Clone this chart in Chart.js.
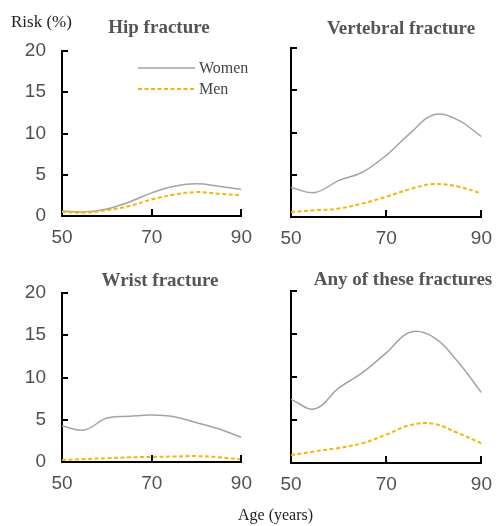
<!DOCTYPE html>
<html>
<head>
<meta charset="utf-8">
<script src="https://cdn.jsdelivr.net/npm/chart.js@4.4.0/dist/chart.umd.min.js"></script>
<style>
  body { margin: 0; background: #fff; }
  #wrap { position: relative; width: 502px; height: 526px; overflow: hidden; background: #fff; }
  canvas { position: absolute; }
  .lbl { position: absolute; font-family: "Liberation Serif", "DejaVu Serif", serif; white-space: nowrap; }
  .title { font-weight: bold; font-size: 19px; color: #555; transform: translateX(-50%); }
</style>
</head>
<body>
<div id="wrap">
  <canvas id="hip" width="262" height="250" style="left:0;top:0"></canvas>
  <canvas id="vert" width="251" height="250" style="left:251px;top:0"></canvas>
  <canvas id="wrist" width="262" height="235" style="left:0;top:263px"></canvas>
  <canvas id="any" width="251" height="235" style="left:251px;top:263px"></canvas>

  <div class="lbl" style="left:11px;top:12px;font-size:17px;color:#222">Risk (%)</div>
  <div class="lbl title" style="left:159px;top:16px">Hip fracture</div>
  <div class="lbl title" style="left:401px;top:17px">Vertebral fracture</div>
  <div class="lbl title" style="left:160px;top:269px">Wrist fracture</div>
  <div class="lbl title" style="left:403px;top:268px">Any of these fractures</div>
  <div class="lbl" style="left:238px;top:506px;font-size:16px;color:#222">Age (years)</div>
</div>
<script>
  const ages = [50, 55, 60, 65, 70, 75, 80, 85, 90];

  const hipWomen = [0.6, 0.5, 0.85, 1.7, 2.8, 3.6, 3.9, 3.6, 3.2];
  const hipMen = [0.5, 0.4, 0.7, 1.2, 2.0, 2.6, 2.9, 2.7, 2.5];

  const vertWomen = [3.5, 2.9, 4.3, 5.3, 7.3, 9.9, 12.1, 11.5, 9.5];
  const vertMen = [0.6, 0.8, 1.0, 1.6, 2.4, 3.3, 3.9, 3.6, 2.8];

  const wristWomen = [4.25, 3.8, 5.2, 5.4, 5.55, 5.35, 4.65, 3.9, 2.9];
  const wristMen = [0.25, 0.35, 0.45, 0.55, 0.6, 0.65, 0.7, 0.55, 0.3];

  const anyWomen = [7.4, 6.3, 8.7, 10.5, 12.8, 15.2, 14.6, 11.8, 8.2];
  const anyMen = [0.9, 1.35, 1.75, 2.3, 3.3, 4.4, 4.55, 3.5, 2.3];

  const seriesNames = ["Women", "Men"];
  const yTicks = [0, 5, 10, 15, 20];
  const xTicks = [50, 70, 90];

  const tickFont = { family: "Liberation Sans, Arial, sans-serif", size: 19 };

  // short tick marks pointing into the plot
  const innerTicks = {
    id: "innerTicks",
    afterDraw(chart) {
      const ctx = chart.ctx;
      const a = chart.chartArea;
      const xs = chart.scales.x;
      const ys = chart.scales.y;
      ctx.save();
      ctx.strokeStyle = "#000";
      ctx.lineWidth = 2;
      ctx.beginPath();
      yTicks.slice(1).forEach((v) => {
        const y = Math.round(ys.getPixelForValue(v));
        ctx.moveTo(a.left, y);
        ctx.lineTo(a.left + 6, y);
      });
      xTicks.slice(1).forEach((v) => {
        const x = Math.round(xs.getPixelForValue(v));
        ctx.moveTo(x, a.bottom);
        ctx.lineTo(x, a.bottom - 7);
      });
      ctx.stroke();
      ctx.restore();
    },
  };

  const lineLegend = {
    id: "lineLegend",
    afterDraw(chart) {
      const ctx = chart.ctx;
      const a = chart.chartArea;
      chart.data.datasets.forEach((ds, i) => {
        const y = a.top + 17 + i * 21;
        ctx.save();
        ctx.strokeStyle = ds.borderColor;
        ctx.lineWidth = ds.borderWidth;
        ctx.setLineDash(ds.borderDash || []);
        ctx.beginPath();
        ctx.moveTo(a.left + 76, y);
        ctx.lineTo(a.left + 133, y);
        ctx.stroke();
        ctx.setLineDash([]);
        ctx.fillStyle = "#444";
        ctx.font = '16px "Liberation Serif", serif';
        ctx.textBaseline = "middle";
        ctx.fillText(ds.label, a.left + 137, y + 1);
        ctx.restore();
      });
    },
  };

  function makePanel(id, women, men, box, showY, withLegend) {
    const toPoints = (vals) => ages.map((a, i) => ({ x: a, y: vals[i] }));
    const plugins = [innerTicks];
    if (withLegend) plugins.push(lineLegend);
    new Chart(document.getElementById(id), {
      type: "line",
      data: {
        datasets: [
          {
            label: seriesNames[0],
            data: toPoints(women),
            borderColor: "#a3a3a3",
            borderWidth: 1.5,
            pointRadius: 0,
            tension: 0.4,
            fill: false,
            order: 1,
          },
          {
            label: seriesNames[1],
            data: toPoints(men),
            borderColor: "#f5b800",
            borderWidth: 2,
            borderDash: [4, 2.5],
            pointRadius: 0,
            tension: 0.4,
            fill: false,
            order: 0,
          },
        ],
      },
      options: {
        responsive: false,
        animation: false,
        events: [],
        layout: { padding: { top: box.top, right: box.right, left: 0, bottom: 0 } },
        plugins: { legend: { display: false }, tooltip: { enabled: false } },
        scales: {
          x: {
            type: "linear",
            min: xTicks[0],
            max: xTicks[xTicks.length - 1],
            afterBuildTicks: (s) => { s.ticks = xTicks.map((v) => ({ value: v })); },
            grid: { display: false, drawTicks: false },
            border: { color: "#000", width: 2 },
            ticks: { padding: 10, font: tickFont, color: "#505050", maxRotation: 0, autoSkip: false },
            afterFit: (s) => { s.height = box.xh; },
          },
          y: {
            min: yTicks[0],
            max: yTicks[yTicks.length - 1],
            afterBuildTicks: (s) => { s.ticks = yTicks.map((v) => ({ value: v })); },
            grid: { display: false, drawTicks: false },
            border: { color: "#000", width: 2 },
            ticks: { display: showY, padding: 16, font: tickFont, color: "#505050" },
            afterFit: (s) => { s.width = box.yw; },
          },
        },
      },
      plugins: plugins,
    });
  }

  makePanel("hip", hipWomen, hipMen, { top: 51, right: 17, xh: 34, yw: 62 }, true, true);
  makePanel("vert", vertWomen, vertMen, { top: 48, right: 11, xh: 33, yw: 40 }, false, false);
  makePanel("wrist", wristWomen, wristMen, { top: 30, right: 17, xh: 36, yw: 62 }, true, false);
  makePanel("any", anyWomen, anyMen, { top: 28, right: 11, xh: 35, yw: 40 }, false, false);
</script>
</body>
</html>
